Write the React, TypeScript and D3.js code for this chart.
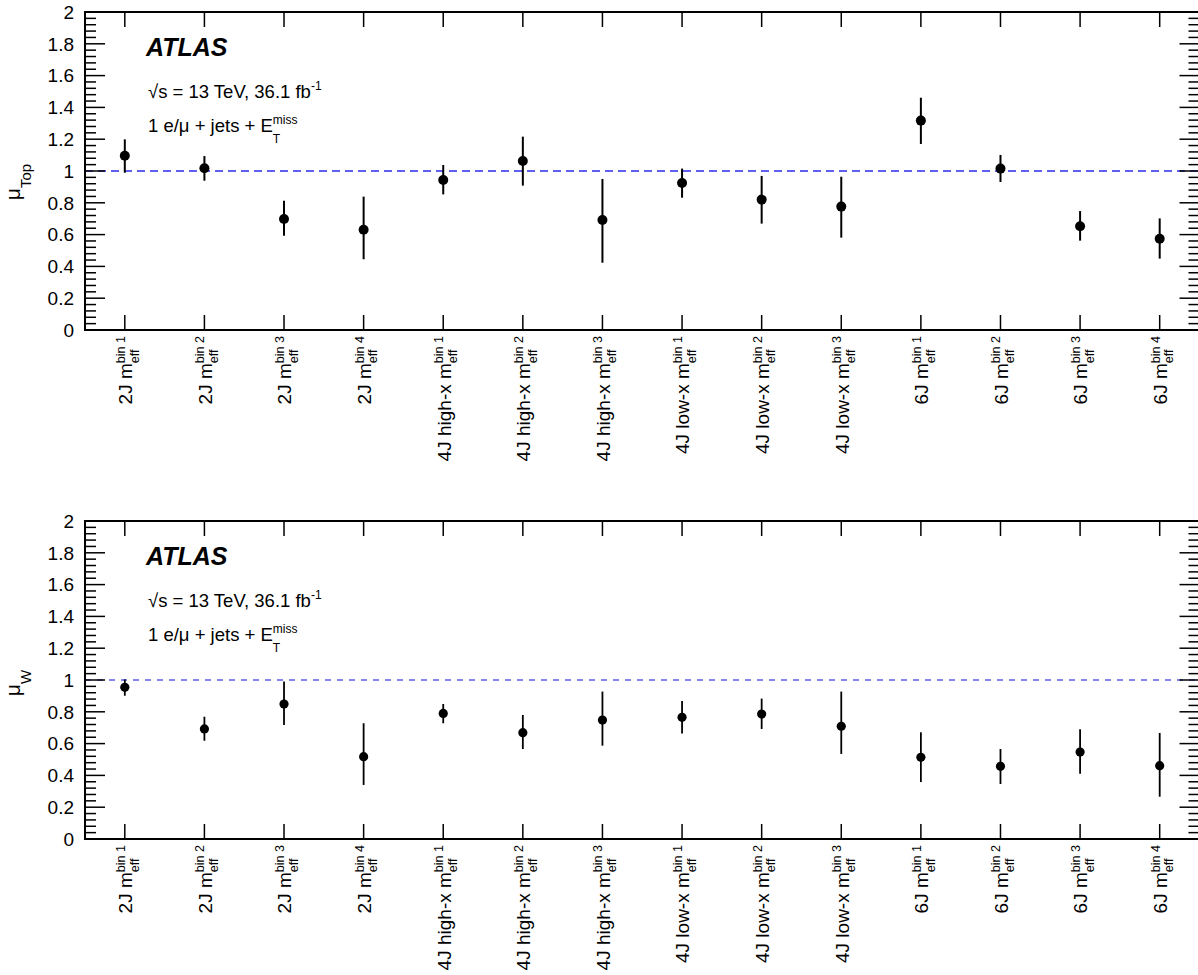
import React from "react";
import * as d3 from "d3";

const W = 1198;
const H = 975;
const FONT = "'Liberation Sans', Arial, Helvetica, sans-serif";

// ---- data ----
const catPrefix = [
  "2J", "2J", "2J", "2J",
  "4J high-x", "4J high-x", "4J high-x",
  "4J low-x", "4J low-x", "4J low-x",
  "6J", "6J", "6J", "6J",
];
const catBin = [
  "bin 1", "bin 2", "bin 3", "bin 4",
  "bin 1", "bin 2", "bin 3",
  "bin 1", "bin 2", "bin 3",
  "bin 1", "bin 2", "bin 3", "bin 4",
];
const muTop = [1.096, 1.017, 0.698, 0.631, 0.943, 1.063, 0.692, 0.925, 0.82, 0.776, 1.317, 1.015, 0.652, 0.574];
const muTopErrUp = [0.103, 0.077, 0.115, 0.208, 0.095, 0.153, 0.258, 0.09, 0.149, 0.188, 0.144, 0.086, 0.096, 0.128];
const muTopErrDn = [0.107, 0.078, 0.105, 0.186, 0.09, 0.155, 0.269, 0.093, 0.151, 0.195, 0.147, 0.084, 0.09, 0.125];
const muW = [0.954, 0.692, 0.849, 0.518, 0.79, 0.669, 0.748, 0.765, 0.786, 0.709, 0.514, 0.457, 0.547, 0.461];
const muWErrUp = [0.05, 0.077, 0.141, 0.21, 0.059, 0.111, 0.179, 0.103, 0.097, 0.218, 0.157, 0.109, 0.143, 0.206];
const muWErrDn = [0.053, 0.074, 0.132, 0.178, 0.062, 0.103, 0.161, 0.102, 0.094, 0.174, 0.156, 0.111, 0.136, 0.195];
const yTicksMajor = [0, 0.2, 0.4, 0.6, 0.8, 1, 1.2, 1.4, 1.6, 1.8, 2];
const yTickLabels = ["0", "0.2", "0.4", "0.6", "0.8", "1", "1.2", "1.4", "1.6", "1.8", "2"];

let ctx: CanvasRenderingContext2D | null = null;
function textW(t: string, size: number, weight = "normal", style = "normal") {
  if (!ctx) ctx = document.createElement("canvas").getContext("2d");
  if (!ctx) return t.length * size * 0.5;
  ctx.font = `${style} ${weight} ${size}px ${FONT}`;
  return ctx.measureText(t).width;
}

const xBand = d3
  .scaleBand<number>()
  .domain(d3.range(catPrefix.length))
  .range([85, 1199.5])
  .padding(0);
const cx = (i: number) => (xBand(i) as number) + xBand.bandwidth() / 2;

type PanelProps = {
  y0: number;
  y1: number;
  vals: number[];
  up: number[];
  dn: number[];
  sub: string;
  titleMid: number;
  labelSize: number;
  dotR: number;
  barW: number;
  dashW: number;
  dash: string;
};

function Panel({ y0, y1, vals, up, dn, sub, titleMid, labelSize, dotR, barW, dashW, dash }: PanelProps) {
  const y = d3.scaleLinear().domain([0, 2]).range([y1, y0]);
  const xl = xBand.range()[0];
  const xr = xBand.range()[1];
  const minor = d3.range(0, 51).map((k) => k * 0.04).filter((v) => Math.abs(v * 5 - Math.round(v * 5)) > 1e-6);
  const smallSize = labelSize * 0.66;
  const effW = textW("eff", smallSize);
  const tW = textW("T", 12);
  const off = y0 - 12;
  const s = labelSize / 18;
  return (
    <g>
      {/* dashed reference line */}
      <line x1={xl} x2={xr} y1={y(1)} y2={y(1)} stroke="#5f5ff0" strokeWidth={dashW} strokeDasharray={dash} />
      {/* frame */}
      <rect x={xl} y={y0} width={xr - xl} height={y1 - y0} fill="none" stroke="#000" strokeWidth={2} />
      {/* y ticks left and right */}
      {yTicksMajor.map((v) => (
        <g key={"M" + v}>
          <line x1={xl} x2={xl + 20} y1={y(v)} y2={y(v)} stroke="#000" strokeWidth={1.5} />
          <line x1={xr - 20} x2={xr} y1={y(v)} y2={y(v)} stroke="#000" strokeWidth={1.5} />
        </g>
      ))}
      {minor.map((v) => (
        <g key={"m" + v}>
          <line x1={xl} x2={xl + 11} y1={y(v)} y2={y(v)} stroke="#000" strokeWidth={1.5} />
          <line x1={xr - 11} x2={xr} y1={y(v)} y2={y(v)} stroke="#000" strokeWidth={1.5} />
        </g>
      ))}
      {yTicksMajor.map((v, k) => (
        <text key={"L" + v} x={74} y={y(v)} dy="0.36em" textAnchor="end" fontSize={19} fontFamily={FONT}>
          {yTickLabels[k]}
        </text>
      ))}
      {/* x ticks top and bottom */}
      {catPrefix.map((_, i) => (
        <g key={"xt" + i}>
          <line x1={cx(i)} x2={cx(i)} y1={y0} y2={y0 + 15} stroke="#000" strokeWidth={1.5} />
          <line x1={cx(i)} x2={cx(i)} y1={y1} y2={y1 - 15} stroke="#000" strokeWidth={1.5} />
        </g>
      ))}
      {/* category labels */}
      {catPrefix.map((p, i) => (
        <g key={"xl" + i} transform={`translate(${cx(i)},${y1 + 6}) rotate(-90)`}>
          <text textAnchor="end" y={7 * s} fontSize={labelSize} fontFamily={FONT}>
            {p + " m"}
            <tspan fontSize={smallSize} dy={6 * s}>eff</tspan>
            <tspan fontSize={smallSize} dx={-effW} dy={-13 * s}>{catBin[i]}</tspan>
          </text>
        </g>
      ))}
      {/* error bars + points */}
      {vals.map((v, i) => (
        <g key={"p" + i}>
          <line x1={cx(i)} x2={cx(i)} y1={y(v + up[i])} y2={y(v - dn[i])} stroke="#000" strokeWidth={barW} />
          <circle cx={cx(i)} cy={y(v)} r={dotR} fill="#000" />
        </g>
      ))}
      {/* y title */}
      <g transform={`translate(20,${titleMid}) rotate(-90)`}>
        <text textAnchor="middle" fontSize={21} fontFamily={FONT}>
          μ<tspan fontSize={15} dy={11}>{sub}</tspan>
        </text>
      </g>
      {/* annotations */}
      <text x={146} y={56 + off} fontSize={25} fontWeight="bold" fontStyle="italic" fontFamily={FONT}>
        ATLAS
      </text>
      <text x={148} y={98 + off} fontSize={18.5} fontFamily={FONT}>
        √s = 13 TeV, 36.1 fb<tspan fontSize={12} dy={-8}>-1</tspan>
      </text>
      <text x={148} y={132 + off} fontSize={18.5} fontFamily={FONT}>
        1 e/μ + jets + E<tspan fontSize={12} dy={11}>T</tspan>
        <tspan fontSize={12} dx={-tW} dy={-19}>miss</tspan>
      </text>
    </g>
  );
}

export default function App() {
  return (
    <svg
      width={W}
      height={H}
      style={{ position: "absolute", left: 0, top: 0, background: "#fff" }}
      xmlns="http://www.w3.org/2000/svg"
    >
      <rect x={0} y={0} width={W} height={H} fill="#fff" />
      <Panel
        y0={12} y1={330} vals={muTop} up={muTopErrUp} dn={muTopErrDn} sub="Top" titleMid={182}
        labelSize={19} dotR={5} barW={2} dashW={2} dash="8 5"
      />
      <Panel
        y0={521} y1={839} vals={muW} up={muWErrUp} dn={muWErrDn} sub="W" titleMid={683}
        labelSize={19} dotR={4.6} barW={1.8} dashW={1.5} dash="6 6"
      />
    </svg>
  );
}
